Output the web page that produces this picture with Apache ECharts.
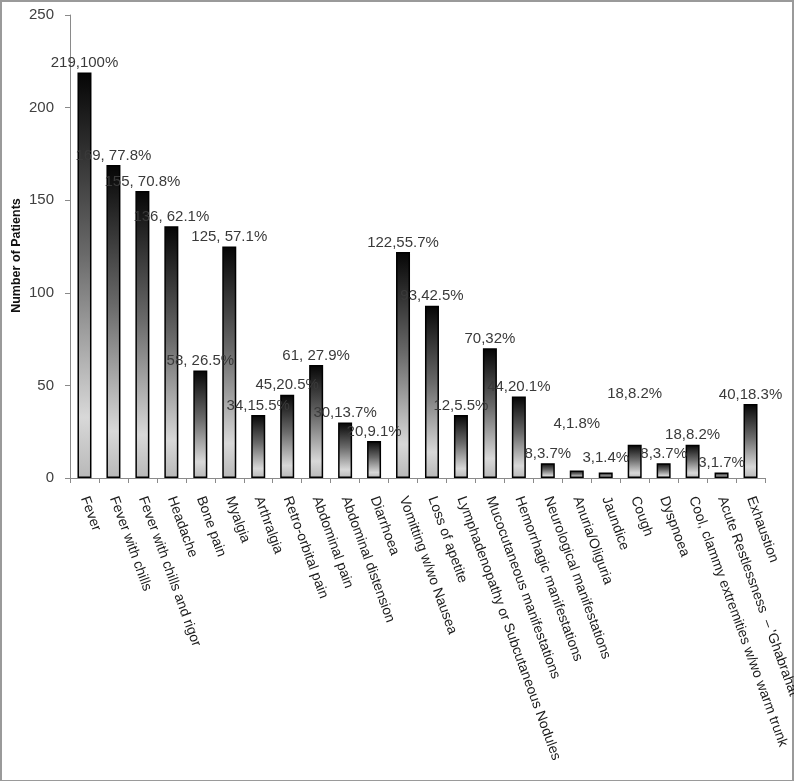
<!DOCTYPE html>
<html>
<head>
<meta charset="utf-8">
<script src="https://cdn.jsdelivr.net/npm/echarts@6/dist/echarts.min.js"></script>
<style>
html,body{margin:0;padding:0;background:#fff;}
#frame{position:absolute;left:0;top:0;width:790px;height:778px;border:2px solid #9a9a9a;}
#chart{position:absolute;left:0;top:0;width:794px;height:781px;}
</style>
</head>
<body>
<div id="frame"></div>
<div id="chart"></div>
<script>
const categories = [
  "Fever", "Fever with chills", "Fever with chills and rigor", "Headache", "Bone pain",
  "Myalgia", "Arthralgia", "Retro-orbital pain", "Abdominal pain", "Abdominal distension",
  "Diarrhoea", "Vomitting w/wo Nausea", "Loss of apetite", "Lymphadenopathy or Subcutaneous Nodules",
  "Mucocutaneous manifestations", "Hemorrhagic manifestations", "Neurological manifestations",
  "Anuria/Oliguria", "Jaundice", "Cough", "Dyspnoea", "Cool, clammy extremities w/wo warm trunk",
  "Acute Restlessness  – 'Ghabrahat", "Exhaustion"
];
const patients = [219, 169, 155, 136, 58, 125, 34, 45, 61, 30, 20, 122, 93, 34, 70, 44, 8, 4, 3, 18, 8, 18, 3, 40];
const labelTexts = [
  "219,100%", "169, 77.8%", "155, 70.8%", "136, 62.1%", "58, 26.5%", "125, 57.1%", "34,15.5%",
  "45,20.5%", "61, 27.9%", "30,13.7%", "20,9.1%", "122,55.7%", "93,42.5%", "12,5.5%", "70,32%",
  "44,20.1%", "8,3.7%", "4,1.8%", "3,1.4%", "18,8.2%", "8,3.7%", "18,8.2%", "3,1.7%", "40,18.3%"
];
const yTicks = [0, 50, 100, 150, 200, 250];
// extra vertical shift of some data labels (style only)
const labelLift = [0,0,0,0,0,0,0,0,0,0,0,0,0,0,0,0,0,-37,-5,-41,0,0,0,0];

const barGradient = new echarts.graphic.LinearGradient(0, 0, 0, 1, [
  { offset: 0, color: '#050505' },
  { offset: 0.45, color: '#6a6a6a' },
  { offset: 0.85, color: '#d8d8d8' },
  { offset: 1, color: '#b8b8b8' }
]);

const chart = echarts.init(document.getElementById('chart'), null, { renderer: 'canvas' });
chart.setOption({
  animation: false,
  backgroundColor: 'transparent',
  grid: { left: 70, right: 29, top: 15, bottom: 303, containLabel: false, outerBoundsMode: 'none' },
  xAxis: {
    type: 'category',
    data: categories,
    axisLine: { show: true, lineStyle: { color: '#8a8a8a', width: 1 } },
    axisTick: { show: true, alignWithLabel: false, length: 5, lineStyle: { color: '#8a8a8a' } },
    axisLabel: {
      interval: 0, rotate: -70, margin: 19,
      fontFamily: 'Liberation Sans', fontSize: 14, color: '#1a1a1a'
    }
  },
  yAxis: {
    type: 'value',
    min: yTicks[0], max: yTicks[yTicks.length - 1], interval: 50,
    name: 'Number of Patients',
    nameLocation: 'middle', nameGap: 47, nameMoveOverlap: false,
    nameTextStyle: { fontFamily: 'Liberation Sans', fontSize: 12.5, fontWeight: 'bold', color: '#111', padding: [0, 18, 0, 0] },
    splitLine: { show: false },
    axisLine: { show: true, lineStyle: { color: '#8a8a8a', width: 1 } },
    axisTick: { show: true, inside: false, length: 5, lineStyle: { color: '#8a8a8a' } },
    axisLabel: { margin: 16, fontFamily: 'Liberation Sans', fontSize: 15, color: '#404040' }
  },
  series: [{
    type: 'bar',
    barWidth: 14,
    data: patients.map((v, i) => ({
      value: v,
      label: { offset: [0, labelLift[i]] }
    })),
    itemStyle: { color: barGradient, borderColor: '#000', borderWidth: 1.5 },
    label: {
      show: true, position: 'top', distance: 2,
      fontFamily: 'Liberation Sans', fontSize: 15, color: '#3a3a3a',
      formatter: p => labelTexts[p.dataIndex]
    }
  }]
});
</script>
</body>
</html>
